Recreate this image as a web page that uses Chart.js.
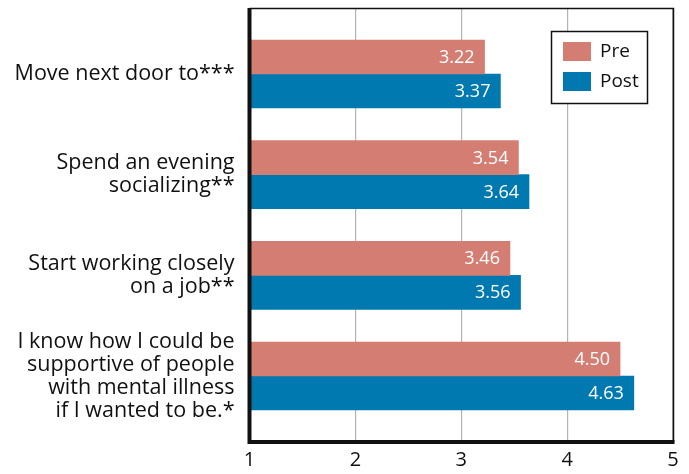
<!doctype html>
<html>
<head>
<meta charset="utf-8" />
<style>
  html, body { margin: 0; padding: 0; background: #fff; }
  .wrap { width: 689px; height: 474px; position: relative; }
</style>
</head>
<body>
<div class="wrap"><canvas id="c" width="689" height="474"></canvas></div>
<script src="https://cdn.jsdelivr.net/npm/chart.js"></script>
<script>
// data
const categories = [
  ["Move next door to***"],
  ["Spend an evening", "socializing**"],
  ["Start working closely", "on a job**"],
  ["I know how I could be", "supportive of people", "with mental illness", "if I wanted to be.*"],
];
const preValues = [3.22, 3.54, 3.46, 4.50];
const postValues = [3.37, 3.64, 3.56, 4.63];
const xTicks = [1, 2, 3, 4, 5];

const PRE = "#d47e73";
const POST = "#0079b1";
const FONT = "'Open Sans', 'Noto Sans', sans-serif";

const toPoints = (vals) => vals.map((v, i) => ({ x: v, y: i }));

// white value labels inside bar ends
const valueLabels = {
  id: "valueLabels",
  afterDatasetsDraw(chart) {
    const ctx = chart.ctx;
    ctx.save();
    ctx.fillStyle = "#fff";
    ctx.font = "18px " + FONT;
    ctx.textAlign = "right";
    ctx.textBaseline = "middle";
    chart.data.datasets.forEach((ds, di) => {
      chart.getDatasetMeta(di).data.forEach((bar, i) => {
        ctx.fillText(ds.data[i].x.toFixed(2), bar.x - 10, bar.y + 1);
      });
    });
    ctx.restore();
  },
};

// plot frame: heavy left/bottom axis, thin top/right
const frame = {
  id: "frame",
  afterDatasetsDraw(chart) {
    const { left, right, top, bottom } = chart.chartArea;
    const ctx = chart.ctx;
    ctx.save();
    ctx.strokeStyle = "#111";
    ctx.lineWidth = 1.5;
    ctx.beginPath();
    ctx.moveTo(left, top + 0.5);
    ctx.lineTo(right + 0.5, top + 0.5);
    ctx.lineTo(right + 0.5, bottom);
    ctx.stroke();
    ctx.lineWidth = 4;
    ctx.beginPath();
    ctx.moveTo(left, top);
    ctx.lineTo(left, bottom);
    ctx.lineTo(right + 1.5, bottom);
    ctx.stroke();
    ctx.restore();
  },
};

// boxed legend inside the plot, top right
const boxLegend = {
  id: "boxLegend",
  afterDraw(chart) {
    const ctx = chart.ctx;
    const x = 551.5, y = 31.5, w = 96, h = 72;
    ctx.save();
    ctx.fillStyle = "#fff";
    ctx.fillRect(x, y, w, h);
    ctx.strokeStyle = "#111";
    ctx.lineWidth = 1.5;
    ctx.strokeRect(x, y, w, h);
    ctx.font = "19px " + FONT;
    ctx.textBaseline = "middle";
    chart.data.datasets.forEach((ds, i) => {
      const ry = 42 + i * 30;
      ctx.fillStyle = ds.backgroundColor;
      ctx.fillRect(563, ry, 28, 19);
      ctx.fillStyle = "#111";
      ctx.fillText(ds.label, 600, ry + 10);
    });
    ctx.restore();
  },
};

new Chart(document.getElementById("c"), {
  type: "bar",
  data: {
    datasets: [
      { label: "Pre", data: toPoints(preValues), backgroundColor: PRE, barThickness: 34 },
      { label: "Post", data: toPoints(postValues), backgroundColor: POST, barThickness: 34 },
    ],
  },
  options: {
    indexAxis: "y",
    responsive: false,
    animation: false,
    layout: { padding: { top: 8, right: 16 } },
    plugins: { legend: { display: false }, tooltip: { enabled: false } },
    scales: {
      x: {
        type: "linear",
        min: 1,
        max: 5,
        afterBuildTicks: (s) => { s.ticks = xTicks.map((v) => ({ value: v })); },
        afterFit: (s) => { s.height = 32; s.paddingLeft = 0; s.paddingRight = 0; },
        grid: { color: "#b3b3b3", lineWidth: 1.2, drawTicks: false },
        border: { display: false },
        ticks: { color: "#111", font: { family: FONT, size: 20 }, padding: 6 },
      },
      y: {
        type: "linear",
        reverse: true,
        offset: false,
        min: -0.655,
        max: 3.655,
        afterBuildTicks: (s) => { s.ticks = categories.map((c, i) => ({ value: i })); },
        afterFit: (s) => { s.width = 249.5; s.paddingTop = 0; s.paddingBottom = 0; },
        grid: { display: false, drawTicks: false },
        border: { display: false },
        ticks: {
          color: "#111",
          font: { family: FONT, size: 21.5, lineHeight: 1.07 },
          padding: 15,
          callback: (v) => categories[v],
        },
      },
    },
  },
  plugins: [valueLabels, frame, boxLegend],
});
</script>
</body>
</html>
